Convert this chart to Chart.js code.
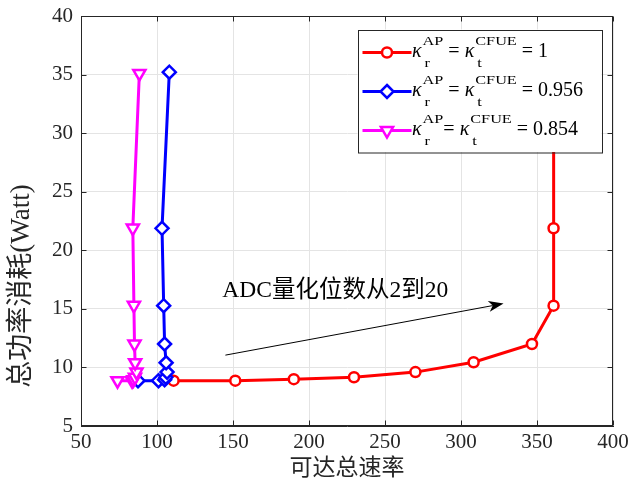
<!DOCTYPE html>
<html>
<head>
<meta charset="utf-8">
<script src="https://cdn.jsdelivr.net/npm/chart.js@4.4.1/dist/chart.umd.min.js"></script>
<style>
html,body{margin:0;padding:0;background:#fff;}
#wrap{width:630px;height:486px;position:relative;}
</style>
</head>
<body>
<div id="wrap"><canvas id="c"></canvas></div>
<script>
// ---- data (ADC bits 2,4,...,20) ----
const adcBits = [2, 4, 6, 8, 10, 12, 14, 16, 18, 20];
const rateK1     = [110.9, 151.5, 190.0, 229.6, 270.0, 308.3, 346.7, 360.9, 360.9, 361.0];
const powerK1    = [8.87, 8.87, 9.0, 9.16, 9.6, 10.44, 12.0, 15.27, 21.88, 35.3];
const rateK0956  = [87.5, 101.0, 105.0, 105.8, 106.6, 106.0, 105.0, 104.4, 103.3, 108.1];
const powerK0956 = [8.87, 8.87, 8.95, 9.16, 9.6, 10.4, 12.0, 15.27, 21.88, 35.2];
const rateK0854  = [74.0, 83.6, 84.5, 85.5, 86.5, 85.6, 85.2, 84.8, 84.1, 88.4];
const powerK0854 = [8.87, 8.87, 8.95, 9.16, 9.6, 10.4, 12.0, 15.3, 21.9, 35.1];
const kappaValues = ['1', '0.956', '0.854'];
const xTickValues = [50, 100, 150, 200, 250, 300, 350, 400];
const yTickValues = [5, 10, 15, 20, 25, 30, 35, 40];
const xTitle = '可达总速率';
const yTitle = '总功率消耗(Watt)';
const noteText = 'ADC量化位数从2到20';
const arrowFrom = {x: 145, y: 11.05};
const arrowTo = {x: 328, y: 15.45};
const noteAt = {x: 143, y: 16.05};

// ---- styles ----
const serif = '"Liberation Serif", "Noto Sans CJK SC", serif';
const axisColor = '#262626';
const gridColor = '#e4e4e4';
const seriesStyle = [
  {color: '#ff0000', point: 'circle', radius: 5, rotation: 0, order: 3},
  {color: '#0000ff', point: 'rectRot', radius: 6.5, rotation: 0, order: 2},
  {color: '#ff00ff', point: 'triangle', radius: 7, rotation: 180, order: 1},
];
const seriesData = [[rateK1, powerK1], [rateK0956, powerK0956], [rateK0854, powerK0854]];

function toPts(xs, ys) { return xs.map((x, i) => ({x: x, y: ys[i]})); }

const datasets = seriesData.map((d, i) => {
  const s = seriesStyle[i];
  return {
    label: 'κ = ' + kappaValues[i],
    data: toPts(d[0], d[1]),
    showLine: true,
    tension: 0,
    borderColor: s.color,
    borderWidth: 3,
    pointStyle: s.point,
    pointRadius: s.radius,
    pointHoverRadius: s.radius,
    pointRotation: s.rotation,
    pointBorderWidth: 2.5,
    pointBorderColor: s.color,
    pointBackgroundColor: '#ffffff',
    order: s.order,
    clip: false
  };
});

function drawMarker(ctx, style, x, y) {
  ctx.save();
  ctx.lineWidth = 2.5;
  ctx.strokeStyle = style.color;
  ctx.fillStyle = '#fff';
  ctx.beginPath();
  const r = style.radius;
  if (style.point === 'circle') {
    ctx.arc(x, y, r, 0, Math.PI * 2);
  } else if (style.point === 'rectRot') {
    ctx.moveTo(x, y - r); ctx.lineTo(x + r, y); ctx.lineTo(x, y + r); ctx.lineTo(x - r, y);
    ctx.closePath();
  } else {
    const a = Math.PI / 180 * style.rotation;
    for (let k = 0; k < 3; k++) {
      const ang = a + k * 2 * Math.PI / 3;
      const px = x + Math.sin(ang) * r, py = y - Math.cos(ang) * r;
      if (k === 0) ctx.moveTo(px, py); else ctx.lineTo(px, py);
    }
    ctx.closePath();
  }
  ctx.fill();
  ctx.stroke();
  ctx.restore();
}

function drawKappa(ctx, x, cy, sup, sub) {
  ctx.font = 'italic 20px ' + serif;
  ctx.fillText('κ', x, cy + 4);
  x += ctx.measureText('κ').width + 1;
  ctx.font = '13px ' + serif;
  const w = Math.max(ctx.measureText(sup).width, ctx.measureText(sub).width) * 1.25;
  ctx.save(); ctx.translate(x, cy - 7.5); ctx.scale(1.25, 1); ctx.fillText(sup, 0, 0); ctx.restore();
  ctx.save(); ctx.translate(x + 2, cy + 14); ctx.scale(1.25, 1); ctx.fillText(sub, 0, 0); ctx.restore();
  return x + w;
}

const decor = {
  id: 'decor',
  afterDatasetsDraw(chart) {
    const ctx = chart.ctx, ca = chart.chartArea;
    const xs = chart.scales.x, ys = chart.scales.y;
    ctx.save();
    // box
    ctx.strokeStyle = axisColor;
    ctx.lineWidth = 1;
    const L = Math.round(ca.left) + 0.5, R = Math.round(ca.right) - 0.5;
    const T = Math.round(ca.top) + 0.5, B = Math.round(ca.bottom) - 0.5;
    ctx.strokeRect(L, T, R - L, B - T);
    // inner ticks
    ctx.beginPath();
    xTickValues.forEach(v => {
      const p = Math.round(xs.getPixelForValue(v)) + 0.5;
      ctx.moveTo(p, B); ctx.lineTo(p, B - 5);
      ctx.moveTo(p, T); ctx.lineTo(p, T + 5);
    });
    yTickValues.forEach(v => {
      const p = Math.round(ys.getPixelForValue(v)) + 0.5;
      ctx.moveTo(L, p); ctx.lineTo(L + 5, p);
      ctx.moveTo(R, p); ctx.lineTo(R - 5, p);
    });
    ctx.stroke();

    // arrow annotation
    const x0 = xs.getPixelForValue(arrowFrom.x), y0 = ys.getPixelForValue(arrowFrom.y);
    const x1 = xs.getPixelForValue(arrowTo.x), y1 = ys.getPixelForValue(arrowTo.y);
    const ang = Math.atan2(y1 - y0, x1 - x0);
    const hl = 15, hw = 5.5, back = 11;
    ctx.strokeStyle = '#000';
    ctx.lineWidth = 1;
    ctx.beginPath();
    ctx.moveTo(x0, y0);
    ctx.lineTo(x1 - Math.cos(ang) * back, y1 - Math.sin(ang) * back);
    ctx.stroke();
    ctx.fillStyle = '#000';
    ctx.beginPath();
    const bx = x1 - Math.cos(ang) * hl, by = y1 - Math.sin(ang) * hl;
    const nx = -Math.sin(ang), ny = Math.cos(ang);
    ctx.moveTo(x1, y1);
    ctx.lineTo(bx + nx * hw, by + ny * hw);
    ctx.lineTo(x1 - Math.cos(ang) * back, y1 - Math.sin(ang) * back);
    ctx.lineTo(bx - nx * hw, by - ny * hw);
    ctx.closePath();
    ctx.fill();
    ctx.font = '23.5px ' + serif;
    ctx.fillStyle = '#000';
    ctx.textBaseline = 'alphabetic';
    ctx.textAlign = 'left';
    ctx.fillText(noteText, xs.getPixelForValue(noteAt.x), ys.getPixelForValue(noteAt.y));

    // y title
    ctx.save();
    ctx.translate(22, ca.top + 270);
    ctx.rotate(-Math.PI / 2);
    ctx.font = '27px ' + serif;
    ctx.fillStyle = axisColor;
    ctx.textAlign = 'center';
    ctx.textBaseline = 'middle';
    ctx.fillText(yTitle, 0, 0);
    ctx.restore();

    // legend
    const lx = ca.right - 255.5, ly = ca.top + 13.5, lw = 244, lh = 122.5;
    ctx.fillStyle = '#fff';
    ctx.fillRect(lx, ly, lw, lh);
    ctx.strokeStyle = axisColor;
    ctx.lineWidth = 1;
    ctx.strokeRect(Math.round(lx) + 0.5, Math.round(ly) + 0.5, lw, lh);
    seriesStyle.forEach((s, i) => {
      const cy = ly + 23 + i * 39;
      ctx.strokeStyle = s.color;
      ctx.lineWidth = 3;
      ctx.beginPath();
      ctx.moveTo(lx + 5, cy); ctx.lineTo(lx + 54, cy);
      ctx.stroke();
      drawMarker(ctx, s, lx + 29.5, cy);
      ctx.fillStyle = '#000';
      ctx.textAlign = 'left';
      ctx.textBaseline = 'alphabetic';
      let x = lx + 54.5;
      x = drawKappa(ctx, x, cy, 'AP', 'r');
      ctx.font = '20px ' + serif;
      const eq1 = i === 2 ? '= ' : ' = ';
      ctx.fillText(eq1, x, cy + 4);
      x += ctx.measureText(eq1).width;
      x = drawKappa(ctx, x, cy, 'CFUE', 't');
      ctx.font = '20px ' + serif;
      ctx.fillText(' = ' + kappaValues[i], x, cy + 4);
    });
    ctx.restore();
  }
};

new Chart(document.getElementById('c'), {
  type: 'scatter',
  data: {datasets: datasets},
  options: {
    responsive: true,
    maintainAspectRatio: false,
    animation: false,
    layout: {padding: {top: 16, right: 17, left: 0, bottom: 0}},
    plugins: {legend: {display: false}, tooltip: {enabled: false}},
    scales: {
      x: {
        type: 'linear', min: 50, max: 400,
        afterBuildTicks: s => { s.ticks = xTickValues.map(v => ({value: v})); },
        afterFit: s => { s.height = 60; s.paddingLeft = 0; s.paddingRight = 0; },
        ticks: {font: {family: serif, size: 21}, color: axisColor, padding: 4, maxRotation: 0},
        grid: {color: gridColor, drawTicks: false},
        border: {color: axisColor},
        title: {display: true, text: xTitle, font: {family: serif, size: 23}, color: axisColor, padding: {top: 0, bottom: 3}}
      },
      y: {
        type: 'linear', min: 5, max: 40,
        afterBuildTicks: s => { s.ticks = yTickValues.map(v => ({value: v})); },
        afterFit: s => { s.width = 81; s.paddingTop = 0; s.paddingBottom = 0; },
        ticks: {font: {family: serif, size: 21}, color: axisColor, padding: 8},
        grid: {color: gridColor, drawTicks: false},
        border: {color: axisColor}
      }
    }
  },
  plugins: [decor]
});
</script>
</body>
</html>
